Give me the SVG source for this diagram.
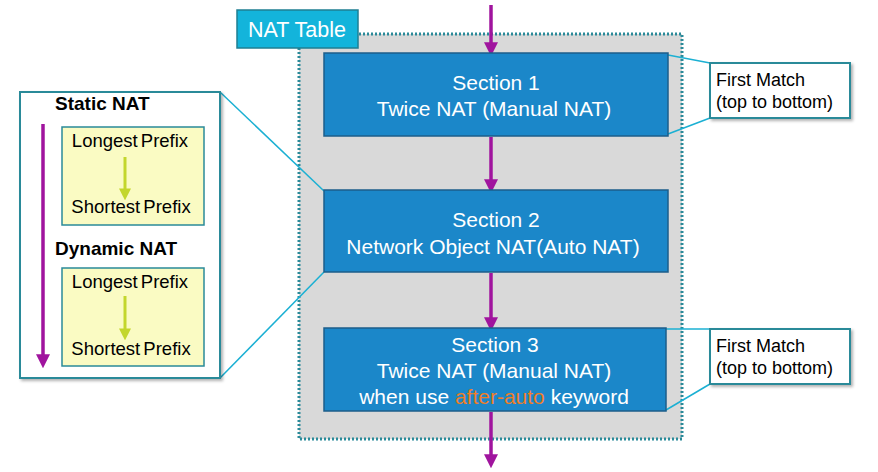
<svg xmlns="http://www.w3.org/2000/svg" width="878" height="472" viewBox="0 0 878 472">
<style>
.sec{fill:#1B87C9;stroke:#1D5E8A;stroke-width:1.5}
.st{font-family:"Liberation Sans",Arial,sans-serif;font-size:21px;fill:#fff;text-anchor:middle}
.note{fill:#fff;stroke:#2A8A99;stroke-width:2}
.nt{font-family:"Liberation Sans",Arial,sans-serif;font-size:18px;fill:#000}
.yb{fill:#FAFBC3;stroke:#2A8A99;stroke-width:1.5}
.yt{font-family:"Liberation Sans",Arial,sans-serif;font-size:18.5px;fill:#000;text-anchor:middle;word-spacing:-2px}
.bt{font-family:"Liberation Sans",Arial,sans-serif;font-size:19px;font-weight:bold;fill:#000}
.lead{stroke:#1BB0D3;stroke-width:1.5;fill:none}
.pa{stroke:#A0149E;stroke-width:3.5;fill:none}
.ga{stroke:#C3D62C;stroke-width:3;fill:none}
</style>
<defs>
<marker id="mp" markerWidth="4" markerHeight="4" refX="2.2" refY="2" orient="auto" markerUnits="strokeWidth"><path d="M0,0 L4,2 L0,4 Z" fill="#A0149E"/></marker>
<marker id="mg" markerWidth="4" markerHeight="4" refX="2.2" refY="2" orient="auto" markerUnits="strokeWidth"><path d="M0,0 L4,2 L0,4 Z" fill="#C3D62C"/></marker>
<filter id="sh" x="-10%" y="-10%" width="130%" height="130%"><feDropShadow dx="2" dy="2" stdDeviation="1.5" flood-color="#000" flood-opacity="0.3"/></filter>
</defs>
<rect width="878" height="472" fill="#fff"/>
<g id="nat-table">
<rect x="299" y="34" width="383" height="405" fill="#D9D9D9" stroke="#2A8A99" stroke-width="3" stroke-dasharray="2 2"/>
<rect x="237" y="10" width="121" height="38" fill="#13B4DB" stroke="#1F7F93" stroke-width="1.5"/>
<text x="297" y="37" font-family="'Liberation Sans',Arial,sans-serif" font-size="21.5" fill="#fff" text-anchor="middle">NAT Table</text>
</g>
<g id="connectors">
<line class="lead" x1="220" y1="92" x2="324" y2="191"/>
<line class="lead" x1="220" y1="378" x2="324" y2="272"/>
<line class="lead" x1="668" y1="55" x2="710" y2="63"/>
<line class="lead" x1="668" y1="134" x2="710" y2="118"/>
<line class="lead" x1="666" y1="329" x2="710" y2="329"/>
<line class="lead" x1="666" y1="410" x2="710" y2="384"/>
<line class="pa" x1="491" y1="5" x2="491" y2="50" marker-end="url(#mp)"/>
<line class="pa" x1="491" y1="137" x2="491" y2="187" marker-end="url(#mp)"/>
<line class="pa" x1="491" y1="273" x2="491" y2="325" marker-end="url(#mp)"/>
<line class="pa" x1="491" y1="412" x2="491" y2="462" marker-end="url(#mp)"/>
</g>
<g id="section1">
<rect class="sec" x="324" y="53" width="344" height="83"/>
<text class="st" x="496" y="90">Section 1</text>
<text class="st" x="494" y="116">Twice NAT (Manual NAT)</text>
</g>
<g id="section2">
<rect class="sec" x="324" y="190" width="344" height="82"/>
<text class="st" x="496" y="227">Section 2</text>
<text class="st" x="493" y="254">Network Object NAT(Auto NAT)</text>
</g>
<g id="section3">
<rect class="sec" x="324" y="328" width="342" height="83"/>
<text class="st" x="495" y="352">Section 3</text>
<text class="st" x="494" y="378">Twice NAT (Manual NAT)</text>
<text class="st" x="494" y="404">when use <tspan fill="#F07E26">after-auto</tspan> keyword</text>
</g>
<g id="note1">
<rect class="note" x="710" y="63" width="140" height="55" filter="url(#sh)"/>
<text class="nt" x="716" y="86">First Match</text>
<text class="nt" x="716" y="108">(top to bottom)</text>
</g>
<g id="note2">
<rect class="note" x="710" y="329" width="140" height="55" filter="url(#sh)"/>
<text class="nt" x="716" y="352">First Match</text>
<text class="nt" x="716" y="374">(top to bottom)</text>
</g>
<g id="detail">
<rect class="note" x="20" y="92" width="200" height="286" filter="url(#sh)"/>
<text class="bt" x="55" y="110">Static NAT</text>
<text class="bt" x="55" y="255">Dynamic NAT</text>
<line class="pa" x1="43" y1="124" x2="43" y2="362" marker-end="url(#mp)"/>
<rect class="yb" x="62" y="127" width="142" height="98"/>
<text class="yt" x="130" y="147">Longest Prefix</text>
<line class="ga" x1="125" y1="157" x2="125" y2="195" marker-end="url(#mg)"/>
<text class="yt" x="131" y="213">Shortest Prefix</text>
<rect class="yb" x="62" y="268" width="142" height="98"/>
<text class="yt" x="130" y="288">Longest Prefix</text>
<line class="ga" x1="125" y1="296" x2="125" y2="335" marker-end="url(#mg)"/>
<text class="yt" x="131" y="355">Shortest Prefix</text>
</g>
</svg>
